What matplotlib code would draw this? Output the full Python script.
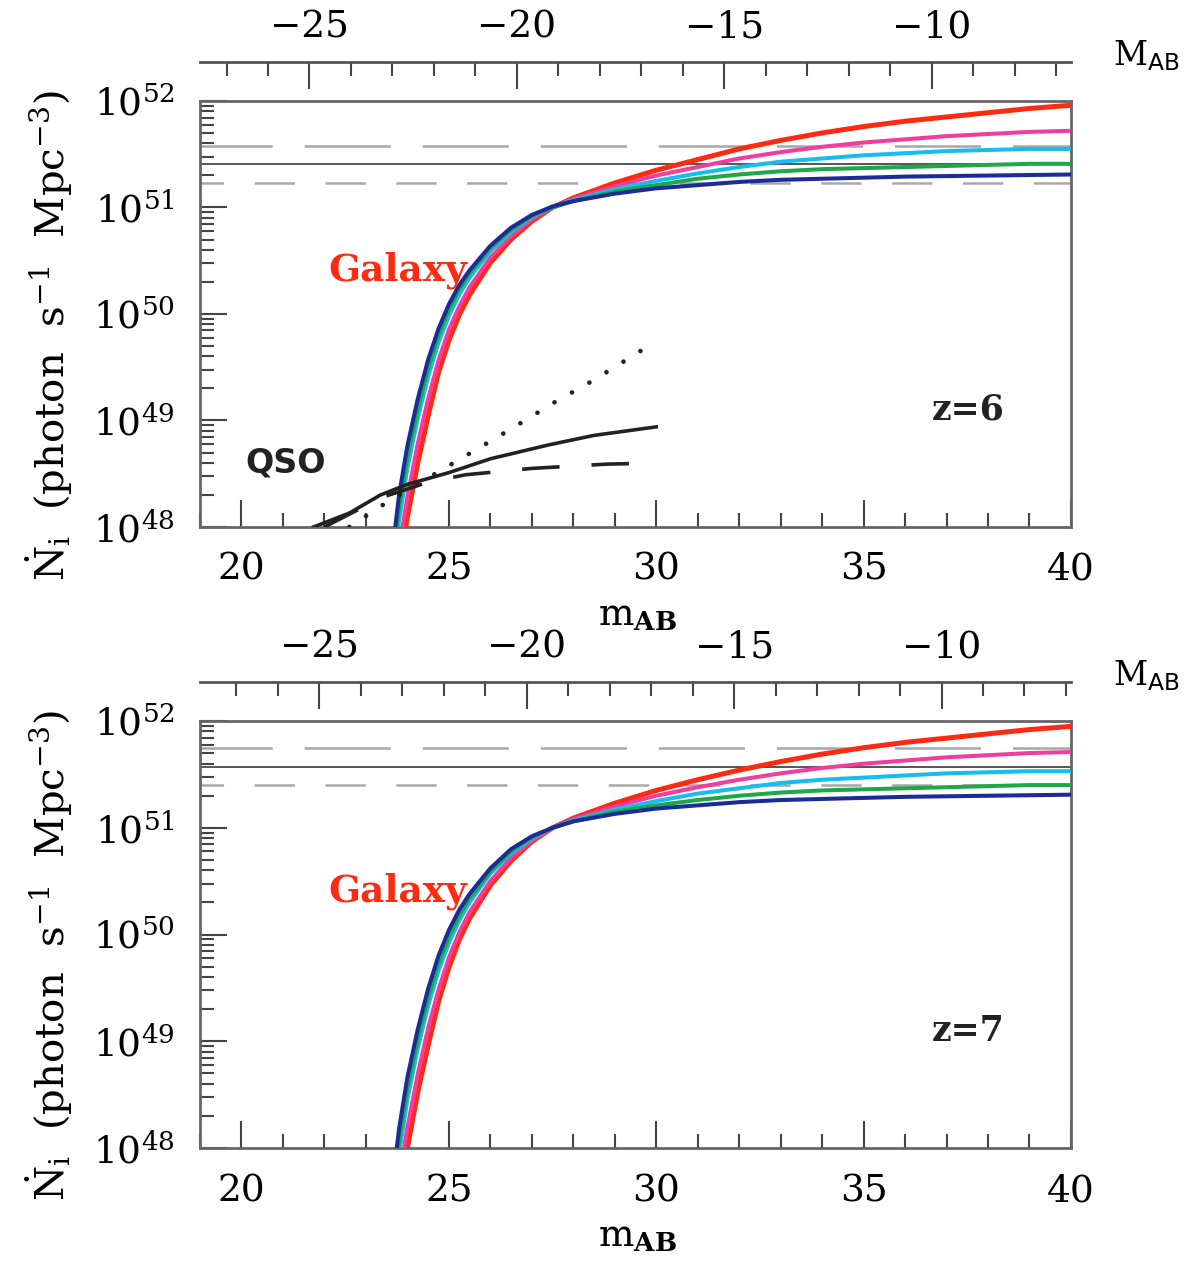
import numpy as np
import matplotlib
matplotlib.use("Agg")
import matplotlib.pyplot as plt
from matplotlib.ticker import MultipleLocator, LogLocator, NullFormatter

plt.rcParams['font.family'] = 'DejaVu Serif'
plt.rcParams['mathtext.fontset'] = 'dejavuserif'
plt.rcParams['lines.scale_dashes'] = False

# apparent magnitude grid for the galaxy curves
m_grid = [23.7, 23.8, 24.0, 24.25, 24.5, 24.75, 25.0, 25.25, 25.5, 26.0, 26.5, 27.0, 27.5,
          28.0, 29.0, 30.0, 31.0, 32.0, 33.0, 34.0, 35.0, 36.0, 37.0, 38.0, 39.0, 40.0]

# log10 Ndot, z=6
red6 = [47.30, 47.62, 48.09, 48.60, 49.04, 49.45, 49.75, 49.99, 50.18, 50.48, 50.70, 50.87, 51.00,
        51.09, 51.23, 51.35, 51.45, 51.55, 51.63, 51.70, 51.76, 51.81, 51.85, 51.89, 51.93, 51.96]
magenta6 = [47.45, 47.80, 48.28, 48.78, 49.20, 49.56, 49.85, 50.07, 50.25, 50.53, 50.73, 50.89, 51.00,
            51.08, 51.20, 51.30, 51.38, 51.46, 51.52, 51.57, 51.61, 51.64, 51.67, 51.69, 51.71, 51.72]
cyan6 = [47.72, 48.06, 48.55, 49.02, 49.41, 49.73, 49.98, 50.18, 50.34, 50.59, 50.77, 50.91, 51.00,
         51.07, 51.17, 51.25, 51.32, 51.38, 51.43, 51.46, 51.49, 51.51, 51.53, 51.54, 51.55, 51.55]
green6 = [47.85, 48.18, 48.65, 49.11, 49.49, 49.80, 50.04, 50.23, 50.38, 50.62, 50.79, 50.92, 51.00,
          51.06, 51.15, 51.21, 51.27, 51.31, 51.34, 51.36, 51.37, 51.38, 51.39, 51.40, 51.41, 51.41]
blue6 = [47.97, 48.30, 48.76, 49.20, 49.57, 49.86, 50.09, 50.27, 50.41, 50.64, 50.81, 50.93, 51.01,
         51.06, 51.13, 51.18, 51.21, 51.24, 51.26, 51.27, 51.28, 51.29, 51.295, 51.30, 51.305, 51.31]

# log10 Ndot, z=7
red7 = [47.20, 47.52, 48.00, 48.52, 48.96, 49.37, 49.69, 49.95, 50.15, 50.46, 50.69, 50.87, 51.00,
        51.09, 51.23, 51.35, 51.45, 51.54, 51.62, 51.69, 51.75, 51.80, 51.84, 51.88, 51.92, 51.95]
magenta7 = [47.35, 47.70, 48.19, 48.69, 49.12, 49.48, 49.78, 50.02, 50.21, 50.50, 50.72, 50.88, 51.00,
            51.08, 51.20, 51.30, 51.38, 51.45, 51.51, 51.56, 51.60, 51.63, 51.66, 51.68, 51.70, 51.71]
cyan7 = [47.60, 47.95, 48.45, 48.93, 49.33, 49.66, 49.92, 50.13, 50.30, 50.57, 50.76, 50.90, 51.00,
         51.07, 51.17, 51.25, 51.32, 51.37, 51.42, 51.45, 51.47, 51.49, 51.51, 51.52, 51.53, 51.53]
green7 = [47.72, 48.06, 48.55, 49.02, 49.41, 49.73, 49.98, 50.18, 50.34, 50.59, 50.78, 50.91, 51.00,
          51.06, 51.15, 51.21, 51.26, 51.30, 51.33, 51.35, 51.36, 51.37, 51.38, 51.39, 51.40, 51.40]
blue7 = [47.85, 48.18, 48.66, 49.11, 49.49, 49.80, 50.04, 50.23, 50.38, 50.62, 50.80, 50.92, 51.00,
         51.06, 51.13, 51.18, 51.21, 51.24, 51.26, 51.27, 51.28, 51.29, 51.295, 51.30, 51.305, 51.31]

gal_colors = ['#ff2a12', '#f23c9e', '#18bdf0', '#1fa84a', '#1c2b9a']

# QSO curves (z=6 only), log10 Ndot
qso_solid_m = [21.74, 22.6, 23.35, 24.0, 25.0, 26.0, 27.4, 28.5, 30.0]
qso_solid = [48.0, 48.13, 48.30, 48.40, 48.51, 48.64, 48.77, 48.86, 48.94]
qso_dash_m = [22.0, 23.4, 24.5, 25.4, 27.0, 28.8, 30.0]
qso_dash = [48.0, 48.28, 48.42, 48.49, 48.55, 48.59, 48.60]
qso_dot_m = [22.6, 23.5, 24.5, 25.5, 26.5, 27.5, 28.5, 29.9]
qso_dot = [48.0, 48.23, 48.46, 48.69, 48.92, 49.16, 49.38, 49.72]

# horizontal reference levels: upper dashed, solid, lower dashed
ref6 = [3.8e51, 2.56e51, 1.7e51]
ref7 = [5.6e51, 3.7e51, 2.5e51]

# distance modulus m -> M for the top axis
dm6 = 46.64
dm7 = 46.88

fig = plt.figure(figsize=(11.84, 12.61), dpi=100)
ax1 = fig.add_axes([0.1689, 0.5821, 0.7356, 0.3378])
ax2 = fig.add_axes([0.1689, 0.0896, 0.7356, 0.3386])

ref_styles = [dict(color='#a8a8a8', lw=1.8, ls=(10, (62, 23))),
              dict(color='#555555', lw=1.4, ls='-'),
              dict(color='#a8a8a8', lw=1.8, ls=(12, (29, 22)))]


def make_panel(ax, curves, refs, dm, ztext):
    ax.set_yscale('log')
    ax.set_xlim(19, 40)
    ax.set_ylim(1e48, 1e52)

    for lev, st in zip(refs, ref_styles):
        ax.axhline(lev, **st, zorder=1)

    for vals, c in zip(curves, gal_colors):
        lw = 3.6 if c == gal_colors[0] else 2.9
        ax.plot(m_grid, 10 ** np.array(vals), color=c, lw=lw, zorder=3,
                solid_joinstyle='round')

    for s in ax.spines.values():
        s.set_color('#666666')
        s.set_linewidth(2.0)

    ax.xaxis.set_major_locator(MultipleLocator(5))
    ax.xaxis.set_minor_locator(MultipleLocator(1))
    ax.yaxis.set_major_locator(LogLocator(base=10, numticks=10))
    ax.yaxis.set_minor_locator(LogLocator(base=10, subs=np.arange(2, 10), numticks=20))
    ax.yaxis.set_minor_formatter(NullFormatter())
    ax.tick_params(which='both', direction='in', top=False, right=False,
                   color='#444444', width=1.5, labelsize=27, pad=18)
    ax.tick_params(which='major', length=19.5)
    ax.tick_params(which='minor', length=10)

    sec = ax.secondary_xaxis('top', functions=(lambda m: m - dm, lambda M: M + dm))
    sec.spines['top'].set_position(('outward', 28))
    sec.spines['top'].set_color('#555555')
    sec.spines['top'].set_linewidth(2.0)
    sec.xaxis.set_major_locator(MultipleLocator(5))
    sec.xaxis.set_minor_locator(MultipleLocator(1))
    sec.tick_params(which='both', direction='in', color='#444444', width=1.5,
                    labelsize=27, pad=12)
    sec.tick_params(which='major', length=19.5)
    sec.tick_params(which='minor', length=10)

    ax.set_xlabel(r'm$_{\mathbf{AB}}$', fontsize=27)
    ax.xaxis.set_label_coords(0.502, -0.165)
    ax.set_ylabel(r'$\dot{\mathrm{N}}_{\mathrm{i}}$  (photon  s$^{-1}$  Mpc$^{-3}$)', fontsize=29)
    ax.yaxis.set_label_coords(-0.143, 0.45)
    ax.text(1.048, 1.105, r'M$_{\mathsf{AB}}$', transform=ax.transAxes, fontsize=24,
            ha='left', va='center')

    ax.text(23.76, 10 ** 50.41, 'Galaxy', color='#ff2a12', fontsize=27,
            fontweight='bold', ha='center', va='center', zorder=5)
    ax.text(37.52, 10 ** 49.1, ztext, color='#222222', fontsize=25,
            fontweight='bold', ha='center', va='center')


make_panel(ax1, [red6, magenta6, cyan6, green6, blue6], ref6, dm6, 'z=6')
make_panel(ax2, [red7, magenta7, cyan7, green7, blue7], ref7, dm7, 'z=7')

# QSO contribution in the z=6 panel
ax1.plot(qso_solid_m, 10 ** np.array(qso_solid), color='#222222', lw=2.6, zorder=4)
ax1.plot(qso_dash_m, 10 ** np.array(qso_dash), color='#222222', lw=2.6,
         ls=(0, (27, 23)), zorder=4)
ax1.plot(qso_dot_m, 10 ** np.array(qso_dot), color='#222222', lw=3.4,
         ls=(0, (0.01, 14.4)), dash_capstyle='round', zorder=4)
ax1.text(21.06, 10 ** 48.6, 'QSO', color='#222222', fontsize=24,
         fontweight='bold', family='DejaVu Sans', ha='center', va='center')

fig.savefig('out.png', dpi=100)
